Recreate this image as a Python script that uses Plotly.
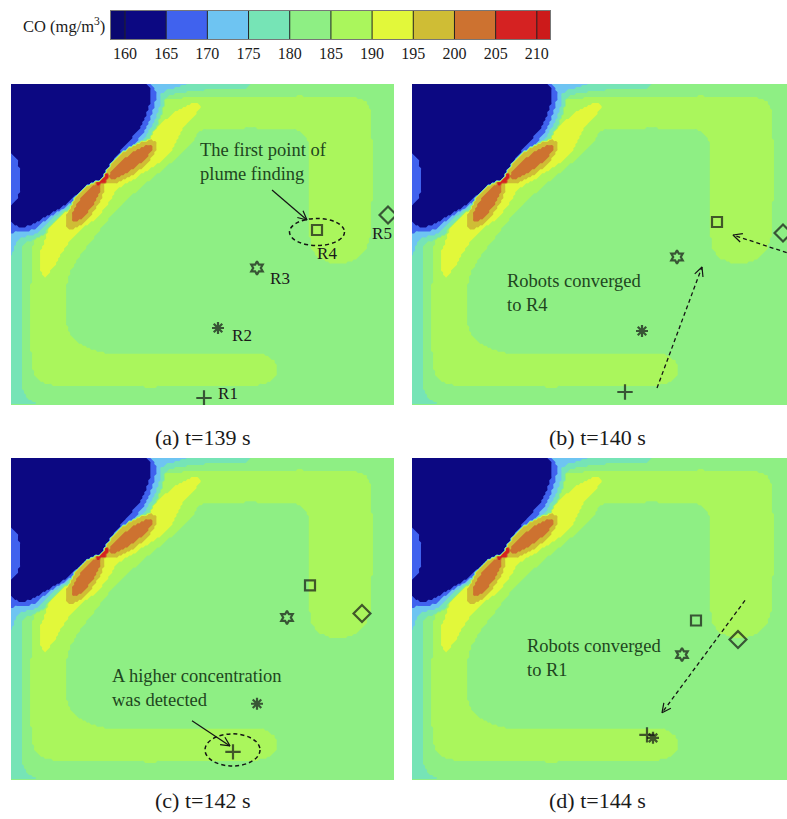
import math
import numpy as np
import plotly.graph_objects as go

W, H = 787, 819
FONT = "Liberation Serif"
TEXT_GREEN = "#1e4620"
INK = "#141414"

# ---------------- colour scale (CO, mg/m3) ----------------
LEVELS = [160, 165, 170, 175, 180, 185, 190, 195, 200, 205, 210]
BAND_CENTRE = [157.5, 162.5, 167.5, 172.5, 177.5, 182.5, 187.5, 192.5, 197.5, 202.5, 207.5, 212.5]
BAND_COLOURS = ["#0a0870", "#0c0882", "#4062ee", "#6ec4f2", "#76e4b6", "#8eef84",
                "#aaf65c", "#e2f83a", "#cfbd35", "#cd7230", "#d52222", "#cc1a1a"]
COLORBAR_ENDS = [158.3, 211.6]

# ---------------- CO iso-band outlines ----------------
# field domain: 0..383 (across) x 0..321 (down); band index into BAND_CENTRE
BACKGROUND_BAND = 5
LEFT_AQUA = [(0, 151), (12, 166), (12, 306), (16, 314), (29, 321), (0, 321)]
C_ARM = [(129, 16), (154, 15), (189, 13), (289, 12), (344, 13), (355, 17), (360, 26), (361, 56),
         (361, 116), (360, 151), (355, 166), (346, 175), (334, 179), (319, 179), (307, 174),
         (300, 164), (298, 146), (298, 76), (297, 58), (292, 49), (284, 45), (239, 44), (194, 45),
         (187, 49), (182, 57), (169, 71), (154, 84), (139, 96), (125, 108), (112, 119), (99, 133),
         (89, 146), (77, 161), (66, 176), (59, 188), (56, 201), (56, 241), (59, 251), (66, 258),
         (79, 265), (94, 269), (139, 270), (239, 269), (254, 271), (263, 277), (267, 286),
         (264, 294), (255, 300), (239, 302), (139, 303), (49, 302), (34, 300), (25, 294),
         (21, 284), (20, 266), (20, 201), (21, 181), (22, 161), (25, 148), (34, 138), (39, 116),
         (119, 26)]
YELLOW_TAIL = [(33, 194), (39, 188), (44, 181), (51, 169), (57, 160), (63, 152), (71, 144),
               (84, 136), (91, 128), (97, 120), (102, 112), (106, 105), (113, 101), (122, 96),
               (132, 89), (144, 82), (154, 74), (161, 66), (165, 58), (170, 47), (177, 38),
               (185, 30), (190, 23), (187, 19), (179, 20), (167, 26), (157, 34), (147, 42),
               (139, 49), (129, 56), (89, 91), (49, 128), (39, 141), (35, 153), (30, 166),
               (29, 178), (30, 188)]
AQUA_RIM = [(0, 0), (239, 0), (235, 4), (194, 6), (167, 9), (155, 13), (153, 20), (151, 29),
            (148, 37), (143, 47), (138, 55), (128, 62), (122, 68), (116, 76), (110, 83), (104, 90),
            (99, 95), (94, 99), (88, 102), (82, 105), (73, 113), (63, 121), (53, 129), (45, 136),
            (38, 144), (32, 151), (22, 156), (13, 159), (9, 166), (7, 174), (6, 181), (0, 181)]
LIGHT_BLUE_RIM = [(0, 0), (176, 0), (167, 3), (155, 6), (149, 11), (149, 20), (147, 28), (144, 36),
                  (139, 45), (134, 53), (126, 60), (120, 67), (114, 74), (108, 82), (102, 89),
                  (97, 94), (93, 98), (87, 101), (81, 103), (71, 111), (61, 120), (51, 127),
                  (42, 134), (34, 142), (27, 149), (17, 152), (9, 154), (4, 161), (2, 168), (0, 172)]
BLUE_RIM = [(0, 0), (140, 0), (144, 4), (145, 12), (144, 20), (142, 27), (139, 35), (135, 43),
            (131, 51), (124, 59), (118, 66), (112, 73), (107, 80), (101, 88), (96, 93), (92, 97),
            (86, 100), (80, 102), (70, 110), (60, 119), (50, 126), (40, 132), (31, 139), (24, 145),
            (15, 148), (7, 148), (0, 149)]
NAVY_CORE = [(0, 0), (135, 0), (139, 4), (140, 12), (139, 20), (137, 26), (134, 34), (130, 42),
             (125, 49), (119, 56), (113, 63), (107, 70), (102, 77), (97, 85), (93, 91), (91, 95),
             (85, 98), (79, 100), (69, 108), (59, 117), (49, 124), (39, 130), (29, 136), (22, 140),
             (14, 143), (7, 143), (0, 138)]
BLUE_PATCH = [(0, 70), (6, 76), (10, 90), (10, 104), (6, 115), (0, 121)]
# plume lobes: (centre u, centre v, semi-major, semi-minor, orientation deg)
OLIVE_LOBES = [(119, 78, 33, 12, -37), (74, 120, 30, 11.5, -55)]
ORANGE_LOBES = [(120, 78, 27, 6.8, -37), (75, 119, 23, 6.8, -55)]
RED_CORE = [(91.5, 95, 8, 3.2, -40), (91.5, 95, 6, 3, 50)]

FIELD_LAYERS = [("poly", 4, LEFT_AQUA), ("poly", 6, C_ARM), ("poly", 7, YELLOW_TAIL),
                ("poly", 4, AQUA_RIM), ("poly", 3, LIGHT_BLUE_RIM), ("poly", 2, BLUE_RIM),
                ("ell", 8, OLIVE_LOBES), ("ell", 9, ORANGE_LOBES), ("ell", 10, RED_CORE),
                ("poly", 1, NAVY_CORE), ("poly", 2, BLUE_PATCH)]

# ---------------- robots (field units of each panel) ----------------
ROBOT_NAMES = ["R1", "R2", "R3", "R4", "R5"]
ROBOT_SYMBOLS = ["cross-thin", "asterisk", "hexagram-open", "square-open", "diamond-open"]
ROBOT_SIZES = [11, 10, 10, 10, 13]
ROBOT_X = {"a": [193, 207, 246, 306, 377], "b": [213, 230, 265, 305, 371],
           "c": [222, 246, 276, 299, 351], "d": [235, 241, 270, 284, 326]}
ROBOT_Y = {"a": [314, 244, 184, 146, 131], "b": [308, 247, 173, 138, 149],
           "c": [293, 245, 159, 127, 155], "d": [276, 279, 196, 162, 181]}
LABEL_X_A = [217, 231, 269, 316, 371]
LABEL_Y_A = [311, 253, 196, 171, 151]

CAPTIONS = {"a": "(a) t=139 s", "b": "(b) t=140 s", "c": "(c) t=142 s", "d": "(d) t=144 s"}
NOTES = {"a": ("The first point of<br>plume finding", 187, 78.5),
         "b": ("Robots converged<br>to R4", 93, 208.5),
         "c": ("A higher concentration<br>was detected", 99, 229.5),
         "d": ("Robots converged<br>to R1", 113, 199.5)}
# (tail, head, dashed?)
ARROWS = {"a": [((261, 106), (296, 136), False)],
          "b": [((245, 304), (290, 183), True), ((388, 173), (321, 151), True)],
          "c": [((181, 262), (219, 287), False)],
          "d": [((333, 142), (250, 254), True)]}
ELLIPSES = {"a": (278.5, 134.5, 333.5, 161.5), "c": (194, 275, 249, 307)}

# ---------------- rasterise the digitised bands onto the contour grid ----------------
U = np.linspace(0, 383, 192)
V = np.linspace(0, 321, 161)
UU, VV = np.meshgrid(U, V)


def in_poly(poly):
    inside = np.zeros(UU.shape, dtype=bool)
    n = len(poly)
    with np.errstate(divide="ignore", invalid="ignore"):
        for k in range(n):
            x1, y1 = poly[k]
            x2, y2 = poly[(k + 1) % n]
            if y1 == y2:
                continue
            cond = (y1 > VV) != (y2 > VV)
            xint = x1 + (VV - y1) * (x2 - x1) / (y2 - y1)
            inside ^= cond & (UU < xint)
    return inside


def in_ellipse(cx, cy, a, b, ang):
    t = math.radians(ang)
    dx, dy = UU - cx, VV - cy
    p = dx * math.cos(t) + dy * math.sin(t)
    q = -dx * math.sin(t) + dy * math.cos(t)
    return (p / a) ** 2 + (q / b) ** 2 <= 1


band = np.full(UU.shape, BACKGROUND_BAND, dtype=int)
for kind, idx, shape in FIELD_LAYERS:
    if kind == "poly":
        band[in_poly(shape)] = idx
    else:
        for e in shape:
            band[in_ellipse(*e)] = idx
Z = np.array(BAND_CENTRE)[band]

CSCALE = [[k / (len(BAND_COLOURS) - 1), col] for k, col in enumerate(BAND_COLOURS)]

# ---------------- layout geometry (pixels) ----------------
PANELS = {
    "a": dict(ax="", box=(11, 84, 394, 405), cap=(202.5, 437)),
    "b": dict(ax="2", box=(412, 84, 787, 405), cap=(597, 437)),
    "c": dict(ax="3", box=(11, 458, 394, 780), cap=(202.5, 800)),
    "d": dict(ax="4", box=(412, 458, 787, 780), cap=(597, 800)),
}


def fx(px):
    return px / W


def fy(py):
    return 1 - py / H


fig = go.Figure()
annotations = []
shapes = []
layout_axes = {}

for key, p in PANELS.items():
    s = p["ax"]
    xa, ya = "x" + s, "y" + s
    X0, Y0, X1, Y1 = p["box"]
    fig.add_trace(go.Contour(
        z=Z, x=U, y=V, xaxis=xa, yaxis=ya,
        colorscale=CSCALE, autocontour=False,
        contours=dict(start=LEVELS[0], end=LEVELS[-1], size=5, coloring="fill", showlines=False),
        line=dict(width=0, smoothing=1.3), showscale=False, hoverinfo="skip"))
    for tail, head, dashed in ARROWS.get(key, []):
        fig.add_trace(go.Scatter(x=[tail[0], head[0]], y=[tail[1], head[1]], xaxis=xa, yaxis=ya,
                                 mode="lines",
                                 line=dict(color=INK, width=1.3 if dashed else 1.2,
                                           dash="4px,3px" if dashed else "solid"),
                                 hoverinfo="skip", showlegend=False))
        ux, uy = tail[0] - head[0], tail[1] - head[1]
        ln = math.hypot(ux, uy)
        ux, uy = ux / ln, uy / ln
        hx, hy = [], []
        for sgn in (1, -1):
            a = math.radians(26) * sgn
            hx.append(head[0] + 10 * (ux * math.cos(a) - uy * math.sin(a)))
            hy.append(head[1] + 10 * (ux * math.sin(a) + uy * math.cos(a)))
        fig.add_trace(go.Scatter(x=[hx[0], head[0], hx[1]], y=[hy[0], head[1], hy[1]],
                                 xaxis=xa, yaxis=ya, mode="lines",
                                 line=dict(color=INK, width=1.2), hoverinfo="skip", showlegend=False))
    fig.add_trace(go.Scatter(x=ROBOT_X[key], y=ROBOT_Y[key], xaxis=xa, yaxis=ya, mode="markers",
                             marker=dict(symbol=ROBOT_SYMBOLS, size=ROBOT_SIZES, color=INK,
                                         line=dict(color=INK, width=2.2)),
                             hoverinfo="skip", showlegend=False))
    if key == "a":
        fig.add_trace(go.Scatter(x=LABEL_X_A, y=LABEL_Y_A, xaxis=xa, yaxis=ya, mode="text",
                                 text=ROBOT_NAMES, textfont=dict(family=FONT, size=17, color="#1a1a1a"),
                                 hoverinfo="skip", showlegend=False))
    if key in ELLIPSES:
        ex0, ey0, ex1, ey1 = ELLIPSES[key]
        shapes.append(dict(type="circle", xref=xa, yref=ya, x0=ex0, y0=ey0, x1=ex1, y1=ey1,
                           line=dict(color=INK, width=1.5, dash="4px,3px")))
    note, nx, ny = NOTES[key]
    annotations.append(dict(x=nx, y=ny, xref=xa, yref=ya, text=note, showarrow=False,
                            xanchor="left", yanchor="middle", align="left",
                            font=dict(family=FONT, size=18.5, color=TEXT_GREEN)))
    cx, cy = p["cap"]
    annotations.append(dict(x=fx(cx), y=fy(cy), xref="paper", yref="paper", text=CAPTIONS[key],
                            showarrow=False, xanchor="center", yanchor="middle",
                            font=dict(family=FONT, size=22, color="#1a1a1a")))
    layout_axes["xaxis" + s] = dict(domain=[fx(X0), fx(X1)], range=[0, X1 - X0], visible=False,
                                     anchor=ya, fixedrange=True)
    layout_axes["yaxis" + s] = dict(domain=[fy(Y1), fy(Y0)], range=[321, 0],
                                     visible=False, anchor=xa, fixedrange=True)

# ---------------- colour bar ----------------
cb_edges = [COLORBAR_ENDS[0]] + LEVELS + [COLORBAR_ENDS[1]]
fig.add_trace(go.Heatmap(z=[BAND_CENTRE], x=cb_edges, y=[0, 1], xaxis="x5", yaxis="y5",
                         colorscale=CSCALE, zmin=BAND_CENTRE[0], zmax=BAND_CENTRE[-1],
                         showscale=False, hoverinfo="skip"))
lx, ly = [], []
for L in LEVELS:
    lx += [L, L, None]
    ly += [0, 1, None]
fig.add_trace(go.Scatter(x=lx, y=ly, xaxis="x5", yaxis="y5", mode="lines",
                         line=dict(color="#222222", width=1), hoverinfo="skip", showlegend=False))
layout_axes["xaxis5"] = dict(domain=[fx(111), fx(550)], range=COLORBAR_ENDS, anchor="y5",
                             tickvals=LEVELS, ticktext=[str(v) for v in LEVELS], ticks="",
                             showgrid=False, zeroline=False, showline=True, mirror=True,
                             linecolor="#777777", linewidth=1, fixedrange=True,
                             tickfont=dict(family=FONT, size=16, color="#1a1a1a"))
layout_axes["yaxis5"] = dict(domain=[fy(39), fy(11)], range=[0, 1], anchor="x5", showticklabels=False,
                             ticks="", showgrid=False, zeroline=False, showline=True, mirror=True,
                             linecolor="#777777", linewidth=1, fixedrange=True)
annotations.append(dict(x=fx(107), y=fy(25), xref="paper", yref="paper",
                        text="CO (mg/m<sup>3</sup>)", showarrow=False, xanchor="right",
                        yanchor="middle", font=dict(family=FONT, size=16.5, color="#1a1a1a")))

fig.update_layout(width=W, height=H, margin=dict(l=0, r=0, t=0, b=0, pad=0),
                  paper_bgcolor="white", plot_bgcolor="white", showlegend=False,
                  annotations=annotations, shapes=shapes, **layout_axes)

fig.write_html("out.html", config={"displayModeBar": False})
